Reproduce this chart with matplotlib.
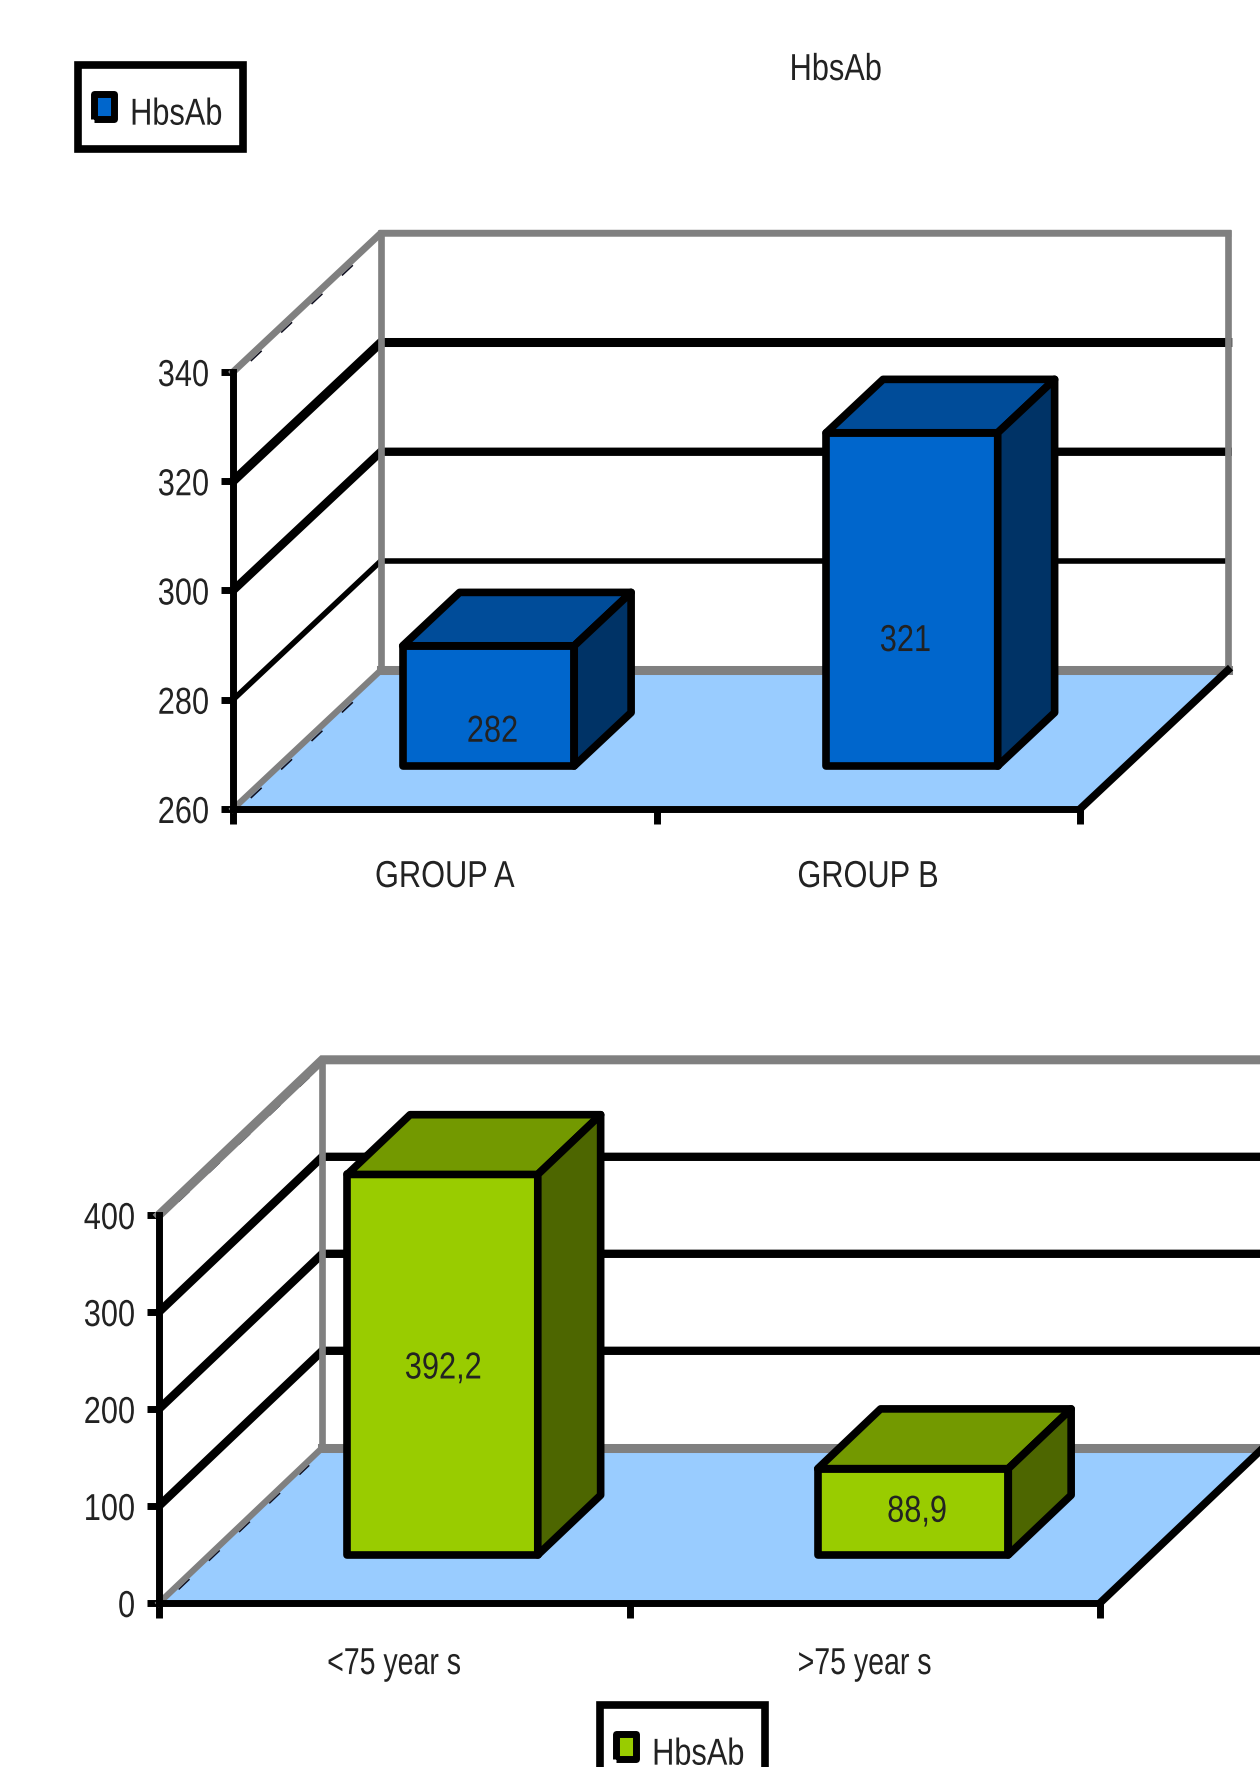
import matplotlib
matplotlib.use('Agg')
import matplotlib.pyplot as plt
from matplotlib.lines import Line2D
from matplotlib.patches import Polygon
from matplotlib.path import Path
from matplotlib.patheffects import AbstractPathEffect
from matplotlib.transforms import Affine2D

plt.rcParams['font.family'] = ['Liberation Sans', 'DejaVu Sans']

FIG_W = 1260
FIG_H = 1767

groups = ['GROUP A', 'GROUP B']
group_values = [282, 321]
group_labels = ['282', '321']
group_ticks = [260, 280, 300, 320, 340]

age_classes = ['<75 year s', '>75 year s']
age_values = [392.2, 88.9]
age_labels = ['392,2', '88,9']
age_ticks = [0, 100, 200, 300, 400]

series_name = 'HbsAb'

BLUE = ['#0066CC', '#004C99', '#003366']
GREEN = ['#99CC00', '#739900', '#4D6600']
FLOOR = '#99CCFF'
GREY = '#808080'
TEXT = '#222222'

BAR_WIDTH = 0.405
BAR_FRONT = 0.31
BAR_BACK = 0.695
FONT_SIZE = 27
NARROW = 0.82


class Squeeze(AbstractPathEffect):
    # no narrow font installed, so squeeze the glyphs sideways
    def __init__(self, anchor, sx=NARROW, dy=0):
        super().__init__()
        self.anchor = anchor
        self.sx = sx
        self.dy = dy

    def draw_path(self, renderer, gc, tpath, affine, rgbFace=None):
        shift = self.anchor * (1 - self.sx) * tpath.get_extents().x1
        squeezed = Affine2D().scale(self.sx, 1).translate(shift, self.dy) + affine
        renderer.draw_path(gc, tpath, squeezed, rgbFace)


def make_axes(fig, left, right, top, bottom):
    return fig.add_axes([left / FIG_W, 1 - bottom / FIG_H,
                         (right - left) / FIG_W, (bottom - top) / FIG_H])


def chart_3d(ax, cats, values, labels, ticks, colors, depth_x, depth_y,
             label_frac, label_dx, grid_lw, top_lw, cat_pad, cat_sx):
    ymin, ymax = ticks[0], ticks[-1]
    yrange = ymax - ymin
    ax.set_xlim(0, 2)
    ax.set_ylim(ymin, ymax)
    ax.patch.set_visible(False)

    def at(x, v, d):
        return (x + d * depth_x, v + d * depth_y)

    def poly(points, **kw):
        ax.add_patch(Polygon(points, closed=True, clip_on=False, **kw))

    def line(points, **kw):
        ax.plot([p[0] for p in points], [p[1] for p in points], clip_on=False, **kw)

    # floor
    poly([at(0, ymin, 0), at(2, ymin, 0), at(2, ymin, 1), at(0, ymin, 1)],
         facecolor=FLOOR, edgecolor='none', zorder=1)

    # small black dashes peeking out under the grey diagonals
    for v in [ymin, ymax]:
        off = yrange * 0.013
        line([at(0, v - off, 0.12), at(0, v - off, 0.92)], color='#101020', lw=1.2,
             linestyle=(0, (9, 16)), zorder=1.5)

    # grey frame of the walls
    line([at(0, ymax, 0), at(0, ymax, 1), at(2, ymax, 1)], color=GREY, lw=top_lw,
         solid_joinstyle='miter', zorder=2)
    line([at(0, ymin, 1), at(2, ymin, 1)], color=GREY, lw=6.5, zorder=2)
    line([at(0, ymin, 0), at(0, ymin, 1)], color=GREY, lw=4.5, zorder=2)

    # gridlines on side wall and back wall
    for v, lw in zip(ticks[1:-1], grid_lw):
        line([at(0, v, 0), at(0, v, 1), at(2, v, 1)], color='black', lw=lw, zorder=3)

    line([at(0, ymin, 1), at(0, ymax, 1)], color=GREY, lw=4.8, zorder=4)
    line([at(2, ymin, 1), at(2, ymax, 1)], color=GREY, lw=4.8, zorder=4)

    # front-right floor edge
    line([at(2, ymin, 0), at(2, ymin, 1)], color='black', lw=5.5, zorder=4)

    # bars
    for i, val in enumerate(values):
        x0 = i + 0.495 - BAR_WIDTH / 2
        x1 = x0 + BAR_WIDTH
        edge = dict(edgecolor='black', linewidth=5.5, joinstyle='round', zorder=5)
        poly([at(x0, ymin, BAR_FRONT), at(x1, ymin, BAR_FRONT),
              at(x1, val, BAR_FRONT), at(x0, val, BAR_FRONT)], facecolor=colors[0], **edge)
        poly([at(x0, val, BAR_FRONT), at(x1, val, BAR_FRONT),
              at(x1, val, BAR_BACK), at(x0, val, BAR_BACK)], facecolor=colors[1], **edge)
        poly([at(x1, ymin, BAR_FRONT), at(x1, ymin, BAR_BACK),
              at(x1, val, BAR_BACK), at(x1, val, BAR_FRONT)], facecolor=colors[2], **edge)
        lx, ly = at(i + 0.5, ymin + (val - ymin) * label_frac[i], BAR_FRONT)
        ax.text(lx + label_dx[i], ly, labels[i], ha='center', va='center',
                fontsize=FONT_SIZE, color=TEXT, zorder=6, path_effects=[Squeeze(0.5)])

    # axes
    for side in ['top', 'right']:
        ax.spines[side].set_visible(False)
    for side in ['left', 'bottom']:
        ax.spines[side].set_linewidth(5)
        ax.spines[side].set_zorder(7)
    ax.set_yticks(ticks)
    ax.set_xticks([0, 1, 2])
    ax.set_xticklabels([])
    ax.set_xticks([0.5, 1.5], minor=True)
    ax.set_xticklabels(cats, minor=True)
    ax.tick_params(axis='y', length=9, width=5, pad=8, labelsize=FONT_SIZE, labelcolor=TEXT)
    ax.tick_params(axis='x', which='major', length=11, width=5)
    ax.tick_params(axis='x', which='minor', length=0, pad=cat_pad, labelsize=FONT_SIZE,
                   labelcolor=TEXT)
    for t in ax.get_yticklabels():
        t.set_path_effects([Squeeze(1)])
    for t in ax.get_xticklabels(minor=True):
        t.set_path_effects([Squeeze(0.5, sx=cat_sx)])


def add_legend(fig, color, left, top):
    # key path in points, below the handle's own centre so it sits mid box
    key_shape = Path([(-7.2, -20), (7.2, -20), (7.2, -2), (-7.2, -2), (-7.2, -20)])
    handle = Line2D([], [], linestyle='none', marker=key_shape, markersize=40,
                    markerfacecolor=color, markeredgecolor='black', markeredgewidth=5)
    leg = fig.legend(handles=[handle], labels=[series_name], loc='upper left',
                     bbox_to_anchor=(left / FIG_W, 1 - top / FIG_H), numpoints=1,
                     borderaxespad=0, fancybox=False, framealpha=1, edgecolor='black',
                     fontsize=FONT_SIZE, handlelength=1.39, handleheight=3.07,
                     handletextpad=0, borderpad=0, labelcolor=TEXT)
    leg.get_frame().set_linewidth(5.5)
    for t in leg.get_texts():
        t.set_path_effects([Squeeze(0, dy=-18)])


fig = plt.figure(figsize=(FIG_W / 100, FIG_H / 100), dpi=100, facecolor='white')

ax1 = make_axes(fig, 233, 1080, 372, 809)
chart_3d(ax1, groups, group_values, group_labels, group_ticks, BLUE,
         depth_x=0.349, depth_y=25.4,
         label_frac=[0.285, 0.375], label_dx=[0.005, -0.02],
         grid_lw=[4.0, 6.0, 6.5], top_lw=5, cat_pad=36, cat_sx=NARROW)

ax2 = make_axes(fig, 159, 1100, 1215, 1603)
chart_3d(ax2, age_classes, age_values, age_labels, age_ticks, GREEN,
         depth_x=0.347, depth_y=160,
         label_frac=[0.49, 0.5], label_dx=[-0.003, 0.004],
         grid_lw=[6.0, 6.0, 6.0], top_lw=6.5, cat_pad=31, cat_sx=0.76)

fig.text(836 / FIG_W, 1 - 70 / FIG_H, series_name, ha='center', va='center',
         fontsize=FONT_SIZE, color=TEXT, path_effects=[Squeeze(0.5)])

add_legend(fig, BLUE[0], 78, 65)
add_legend(fig, GREEN[0], 600, 1705)

fig.savefig('out.png', dpi=100)
